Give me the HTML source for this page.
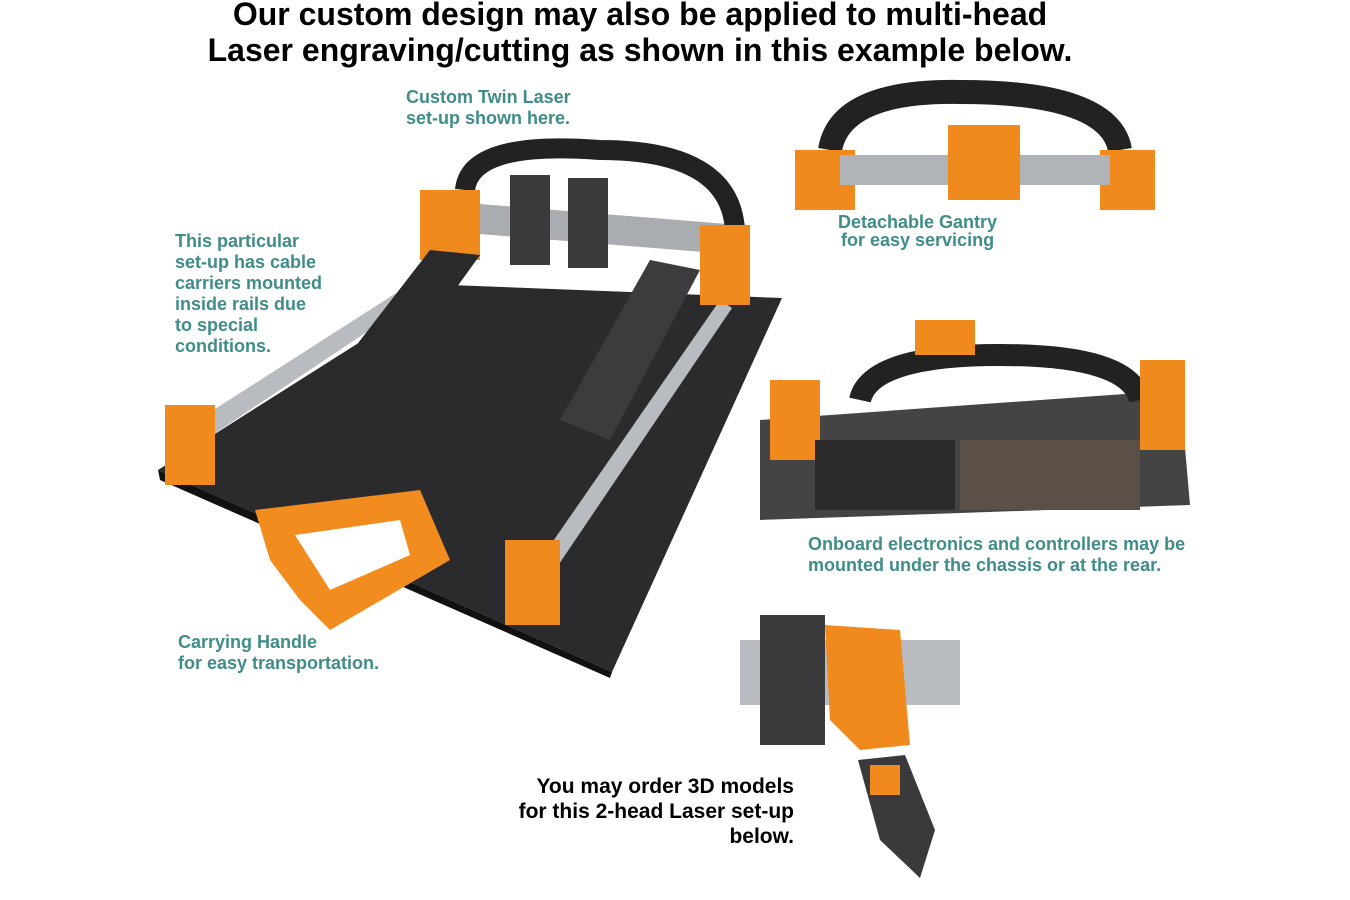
<!DOCTYPE html>
<html><head><meta charset="utf-8"><style>
body{margin:0;width:1350px;height:900px;background:#fff;position:relative;overflow:hidden;font-family:"Liberation Sans",sans-serif}
.t{position:absolute;font-weight:bold;color:#3f8c88;font-size:18px;line-height:21px}
.h{position:absolute;left:0;width:1280px;text-align:center;font-weight:bold;font-size:32px;line-height:36px;color:#000;top:-4px}
.b{position:absolute;font-weight:bold;font-size:21px;line-height:25px;color:#000;text-align:right}
svg{position:absolute;left:0;top:0}
</style></head><body>
<svg width="1350" height="900">
<polygon points="158,470 450,285 782,298 612,672" fill="#2b2b2e"/>
<polygon points="158,470 612,672 610,678 160,480" fill="#111"/>
<polygon points="190,425 440,265 452,275 205,440" fill="#b8bcc0"/>
<polygon points="540,560 720,300 732,308 555,570" fill="#b8bcc0"/>
<polygon points="430,200 740,225 740,255 430,230" fill="#a9adb1"/>
<path d="M465,190 Q470,140 600,150 Q730,150 735,230" stroke="#222" stroke-width="20" fill="none"/>
<rect x="510" y="175" width="40" height="90" fill="#3a3a3c"/>
<rect x="568" y="178" width="40" height="90" fill="#3a3a3c"/>
<rect x="420" y="190" width="60" height="70" fill="#f08a1c"/>
<rect x="700" y="225" width="50" height="80" fill="#f08a1c"/>
<polygon points="345,360 430,250 480,255 390,380" fill="#2a2a2a"/>
<polygon points="560,420 650,260 700,270 610,440" fill="#3c3c3e"/>
<rect x="165" y="405" width="50" height="80" fill="#f08a1c"/>
<rect x="505" y="540" width="55" height="85" fill="#f08a1c"/>
<path d="M255,510 L420,490 L450,560 L330,630 L300,600 L270,560 Z" fill="#f28c1e"/>
<path d="M295,535 L400,520 L410,555 L330,590 Z" fill="#fff"/>
<path d="M830,150 Q840,90 960,92 Q1110,92 1120,150" stroke="#222" stroke-width="24" fill="none"/>
<rect x="795" y="150" width="60" height="60" fill="#f08a1c"/>
<rect x="1100" y="150" width="55" height="60" fill="#f08a1c"/>
<rect x="840" y="155" width="270" height="30" fill="#b0b4b8"/>
<rect x="948" y="125" width="72" height="75" fill="#f08a1c"/>
<polygon points="760,420 1180,390 1190,505 760,520" fill="#444"/>
<path d="M860,400 Q870,355 1000,355 Q1130,355 1140,400" stroke="#222" stroke-width="22" fill="none"/>
<rect x="770" y="380" width="50" height="80" fill="#f08a1c"/>
<rect x="1140" y="360" width="45" height="90" fill="#f08a1c"/>
<rect x="815" y="440" width="140" height="70" fill="#2a2a2a"/>
<rect x="960" y="440" width="180" height="70" fill="#5a5048"/>
<rect x="915" y="320" width="60" height="35" fill="#f08a1c"/>
<rect x="740" y="640" width="220" height="65" fill="#b8bcc0"/>
<rect x="760" y="615" width="65" height="130" fill="#3b3b3d"/>
<polygon points="825,625 900,630 910,745 860,750 830,720" fill="#f08a1c"/>
<polygon points="858,760 905,755 935,830 920,878 880,840" fill="#3a3a3c"/>
<rect x="870" y="765" width="30" height="30" fill="#f08a1c"/>
</svg>
<div class="h">Our custom design may also be applied to multi-head<br>Laser engraving/cutting as shown in this example below.</div>
<div class="t" style="left:406px;top:87px">Custom Twin Laser<br>set-up shown here.</div>
<div class="t" style="left:175px;top:231px">This particular<br>set-up has cable<br>carriers mounted<br>inside rails due<br>to special<br>conditions.</div>
<div class="t" style="left:838px;top:213px;text-align:center;line-height:18px">Detachable Gantry<br>for easy servicing</div>
<div class="t" style="left:808px;top:534px">Onboard electronics and controllers may be<br>mounted under the chassis or at the rear.</div>
<div class="t" style="left:178px;top:632px">Carrying Handle<br>for easy transportation.</div>
<div class="b" style="left:480px;top:774px;width:314px">You may order 3D models<br>for this 2-head Laser set-up<br>below.</div>
</body></html>
